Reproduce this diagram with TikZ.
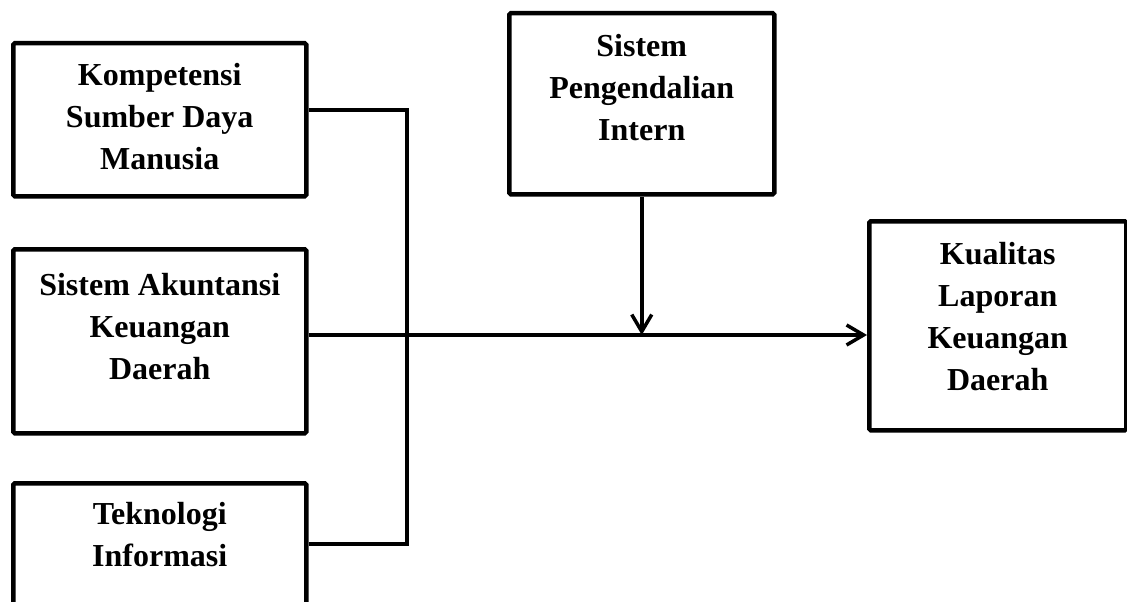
\documentclass[tikz,border=0pt]{standalone}
\usepackage{fontspec}
\setmainfont{Liberation Serif}
\usepackage{tikz}
\usetikzlibrary{arrows.meta,calc}
\newcommand{\boxtext}[4]{\parbox[c][#2][t]{#1}{\centering\rule{0pt}{#3}#4}}
\tikzset{
  varbox/.style={draw, line width=4.5pt, rounded corners=1.5pt, inner sep=0pt, anchor=north west,
    font=\fontsize{32}{42}\selectfont\bfseries},
  conn/.style={line width=3.5pt},
  arr/.style={conn, -{Straight Barb[length=17pt, width=20pt]}}
}

\begin{document}
\begin{tikzpicture}[x=1pt, y=-1pt]
\useasboundingbox (0,0) rectangle (1127,602);
\node[varbox] (sdm) at (11,41) {\boxtext{293pt}{153pt}{42pt}{Kompetensi\\Sumber Daya\\Manusia}};
\node[varbox] (sakd) at (11,247) {\boxtext{293pt}{184pt}{46pt}{Sistem Akuntansi\\Keuangan\\Daerah}};
\node[varbox] (ti) at (11,481) {\boxtext{293pt}{170pt}{41pt}{Teknologi\\Informasi}};
\node[varbox] (spi) at (507,11) {\boxtext{265pt}{181pt}{43pt}{Sistem\\Pengendalian\\Intern}};
\node[varbox] (klkd) at (867,219) {\boxtext{257pt}{209pt}{43pt}{Kualitas\\Laporan\\Keuangan\\Daerah}};
\coordinate (bustop) at (407,110);
\coordinate (busbot) at (407,544);
\coordinate (main) at (0,335);
\draw[conn] (sdm.east |- bustop) -- (bustop) -- (busbot) -- (busbot -| ti.east);
\draw[arr] (sakd.east |- main) -- (klkd.west |- main);
\draw[arr] (spi.south) -- (spi.south |- main);
\end{tikzpicture}
\end{document}
